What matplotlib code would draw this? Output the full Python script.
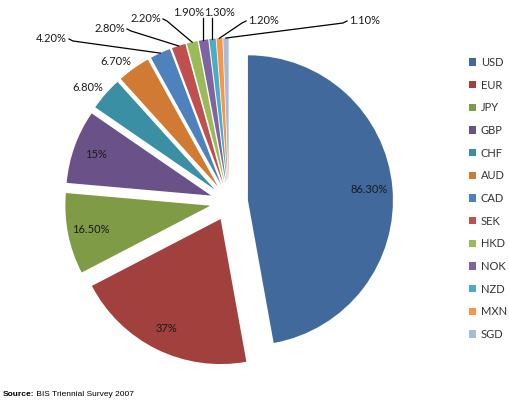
import numpy as np
import matplotlib.pyplot as plt

currencies = ['USD', 'EUR', 'JPY', 'GBP', 'CHF', 'AUD', 'CAD', 'SEK', 'HKD',
              'NOK', 'NZD', 'MXN', 'SGD']
shares = [86.3, 37, 16.5, 15, 6.8, 6.7, 4.2, 2.8, 2.2, 1.9, 1.3, 1.2, 1.1]
labels = ['86.30%', '37%', '16.50%', '15%', '6.80%', '6.70%', '4.20%',
          '2.80%', '2.20%', '1.90%', '1.30%', '1.20%', '1.10%']
colors = ['#41699c', '#a2403d', '#7f9b46', '#6a5288', '#3a8fa5', '#d17a34',
          '#4f81bd', '#c0504d', '#9bbb59', '#8064a2', '#4bacc6', '#f79646',
          '#a7bcdb']

W, H = 509, 400
fig = plt.figure(figsize=(W / 100, H / 100), dpi=100)
ax = fig.add_axes([0, 0, 1, 1])

# pie geometry in pixel units (axes spans the whole figure)
cx, cy, r = 229, H - 202, 145
gap = 19  # explode offset, in the same units as the radius
wedges, _ = ax.pie(shares, colors=colors, startangle=90, counterclock=False,
                   explode=[gap] * len(shares), center=(cx, cy), radius=r,
                   wedgeprops=dict(linewidth=0))
ax.set_xlim(0, W)
ax.set_ylim(0, H)
ax.axis('off')

lab_font = dict(family=['Lato', 'DejaVu Sans'], fontsize=8, color='#1a1a1a')


def mid_point(w, frac):
    mid = np.deg2rad((w.theta1 + w.theta2) / 2)
    x0, y0 = w.center
    return x0 + frac * r * np.cos(mid), y0 + frac * r * np.sin(mid)


# inner labels for the big slices
for i in range(4):
    x, y = mid_point(wedges[i], 0.84)
    ax.text(x, y, labels[i], ha='center', va='center', **lab_font)

# CHF / AUD just outside the rim, no leader
for i in (4, 5):
    x, y = mid_point(wedges[i], 1.0)
    ax.text(x - 2, y + 3, labels[i], ha='right', va='baseline', **lab_font)

# small slices with leader lines: label anchor (pixel, from top-left)
anchors = {6: (67, 38, 'right'), 7: (125, 28, 'right'), 8: (161, 18, 'right'),
           9: (204, 13, 'right'), 10: (204, 13, 'left'), 11: (248, 20, 'left'),
           12: (349, 20, 'left')}
for i, (tx, ty, side) in anchors.items():
    ex, ey = mid_point(wedges[i], 1.0)
    ty = H - ty
    if i in (9, 10):
        ax.plot([ex, ex], [ey, ty - 5], color='black', lw=0.9)
    else:
        lx = tx + (2 if side == 'right' else -2)
        ax.plot([lx, lx + (4 if side == 'right' else -4), ex],
                [ty - 1, ty - 3, ey], color='black', lw=0.9)
    ax.text(tx, ty, labels[i], ha=side, va='center', **lab_font)

leg = ax.legend(wedges, currencies, loc='upper left',
                bbox_to_anchor=(469 / W, 1 - 57 / H), frameon=False,
                prop=dict(family=['Lato', 'DejaVu Sans'], size=8),
                handlelength=0.65, handleheight=0.65, handletextpad=0.4,
                labelspacing=1.05, borderpad=0, borderaxespad=0)
for t in leg.get_texts():
    t.set_color('#333333')

src = fig.text(3 / W, 1 - 396 / H, 'Source:', fontsize=6,
               family='Liberation Sans', fontweight='bold', va='baseline')
ax.annotate(' BIS Triennial Survey 2007', xy=(1, 0), xycoords=src,
            fontsize=6, family='Liberation Sans', va='bottom')

fig.savefig('out.png', dpi=100)
